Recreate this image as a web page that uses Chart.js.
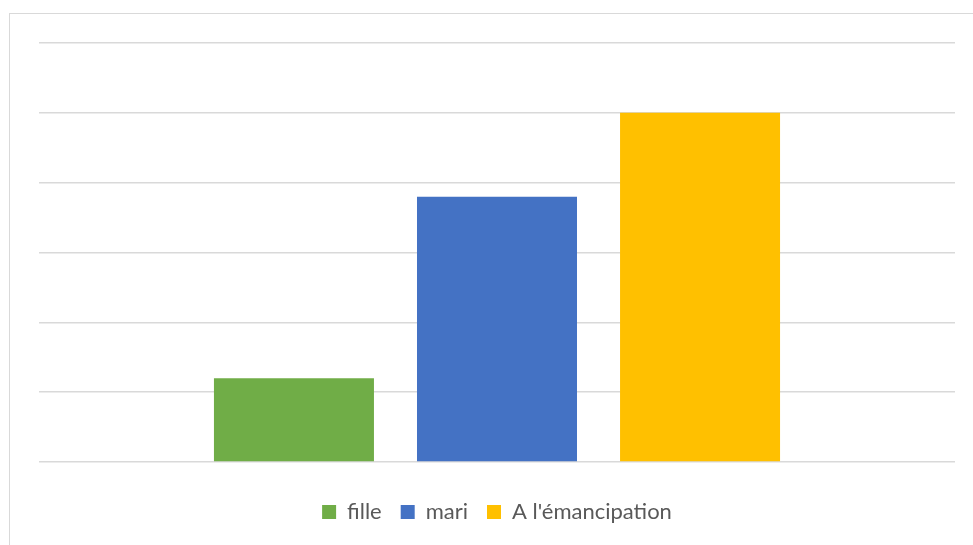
<!DOCTYPE html>
<html>
<head>
<meta charset="utf-8">
<script src="https://cdn.jsdelivr.net/npm/chart.js@4/dist/chart.umd.min.js"></script>
<style>
    body { margin: 0; background: #fff; }
    #frame {
        position: absolute;
        left: 9px;
        top: 13px;
        width: 1000px;
        height: 600px;
        border: 1px solid #d9d9d9;
    }
    #wrap { position: absolute; left: 0; top: 0; width: 973px; height: 545px; }
</style>
</head>
<body>
<div id="frame"></div>
<div id="wrap"><canvas id="barChart"></canvas></div>
<script>
const categories = [""];
const seriesNames = ["fille", "mari", "A l'émancipation"];
const filleValues = [1.2];
const mariValues = [3.8];
const emancipationValues = [5.0];
const yTicks = [0, 1, 2, 3, 4, 5, 6];

const colors = ["#70AD47", "#4472C4", "#FFC000"];

const ctx = document.getElementById('barChart').getContext('2d');

new Chart(ctx, {
    type: 'bar',
    data: {
        labels: categories,
        datasets: [
            { label: seriesNames[0], data: filleValues, backgroundColor: colors[0] },
            { label: seriesNames[1], data: mariValues, backgroundColor: colors[1] },
            { label: seriesNames[2], data: emancipationValues, backgroundColor: colors[2] }
        ]
    },
    options: {
        responsive: true,
        maintainAspectRatio: false,
        animation: false,
        categoryPercentage: 0.665,
        barPercentage: 0.788,
        layout: {
            padding: { left: 39, right: 18, top: 43, bottom: 12 }
        },
        plugins: {
            tooltip: { enabled: false },
            legend: {
                position: 'bottom',
                labels: {
                    boxWidth: 14,
                    boxHeight: 14,
                    padding: 19,
                    color: '#595959',
                    font: { family: 'Lato', size: 22 }
                }
            }
        },
        scales: {
            x: {
                border: { display: false },
                grid: { display: false, drawTicks: false },
                ticks: { display: false },
                // empty band between the plot and the legend
                afterFit: (axis) => { axis.height = 20; }
            },
            y: {
                min: yTicks[0],
                max: yTicks[yTicks.length - 1],
                afterBuildTicks: (axis) => {
                    axis.ticks = yTicks.map(v => ({ value: v }));
                },
                border: { display: false },
                grid: { color: '#d9d9d9', lineWidth: 1.5, drawTicks: false },
                ticks: { display: false }
            }
        }
    }
});
</script>
</body>
</html>
